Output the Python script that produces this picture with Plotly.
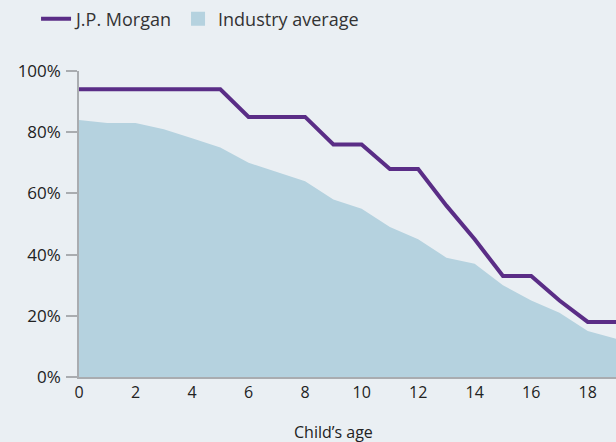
import plotly.graph_objects as go

ages = list(range(0, 20))
jpm = [94, 94, 94, 94, 94, 94, 85, 85, 85, 76, 76, 68, 68, 56, 45, 33, 33, 25, 18, 18]
industry = [84, 83, 83, 81, 78, 75, 70, 67, 64, 58, 55, 49, 45, 39, 37, 30, 25, 21, 15, 12.5]
x_ticks = [0, 2, 4, 6, 8, 10, 12, 14, 16, 18]
y_ticks = [0, 20, 40, 60, 80, 100]
y_labels = [f"{v}%" for v in y_ticks]
x_title = "Child’s age"

FONT = "Open Sans"
BG = "#eaeff3"
PURPLE = "#5a2d86"
AREA = "#b5d2df"
TXT = "#222222"

fig = go.Figure()
fig.add_trace(go.Scatter(
    x=ages, y=industry, name="Industry average", mode="lines", showlegend=False,
    fill="tozeroy", fillcolor=AREA, line=dict(width=0, color=AREA),
))
fig.add_trace(go.Scatter(
    x=ages, y=jpm, name="J.P. Morgan", mode="lines",
    line=dict(color=PURPLE, width=4), legendrank=1,
))
fig.add_trace(go.Scatter(
    x=[None], y=[None], name="Industry average", mode="markers",
    marker=dict(symbol="square", size=14, color=AREA), legendrank=2,
))

fig.add_annotation(
    x=(x_ticks[0] + x_ticks[-1]) / 2, xref="x", y=-0.18, yref="paper",
    text=x_title, showarrow=False,
    font=dict(family=FONT, size=16, color=TXT), yanchor="middle",
)

fig.update_layout(
    width=616, height=442,
    margin=dict(l=79, r=0, t=71, b=65),
    paper_bgcolor=BG, plot_bgcolor=BG,
    font=dict(family=FONT, size=16, color=TXT),
    showlegend=True,
    legend=dict(
        orientation="h", x=-0.08, xanchor="left", y=1.17, yanchor="middle",
        font=dict(size=18, color="#333333"), bgcolor="rgba(0,0,0,0)",
    ),
    xaxis=dict(
        range=[0, 19], tickvals=x_ticks, ticks="", showgrid=False, zeroline=False,
        showline=True, linecolor="#a9acb0", linewidth=1.5,
        tickfont=dict(size=16, color=TXT),
    ),
    yaxis=dict(
        range=[0, 100], tickvals=y_ticks, ticktext=y_labels, ticks="outside", ticklen=11,
        tickcolor="#a9acb0", tickwidth=1.5, showgrid=False, zeroline=False,
        showline=True, linecolor="#a9acb0", linewidth=1.5,
        tickfont=dict(size=17, color=TXT), ticklabelstandoff=2,
    ),
)

fig.write_html(
    "out.html",
    config={"displayModeBar": False},
    post_script="document.body.style.margin='0';document.body.style.overflow='hidden';",
)
